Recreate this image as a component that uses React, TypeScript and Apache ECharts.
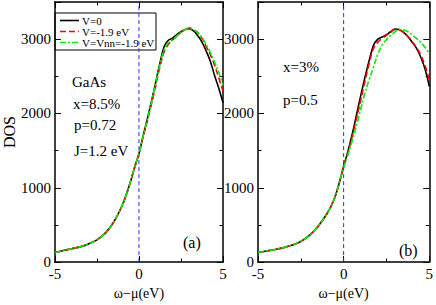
import React, { useEffect, useRef } from "react";
import * as echarts from "echarts";

// energy grid (eV)
const omega = [-5, -4.5, -4, -3.5, -3, -2.5, -2, -1.5, -1, -0.75, -0.5, -0.25,
  0, 0.25, 0.5, 0.75, 1, 1.25, 1.5, 1.75, 2, 2.25, 2.5, 2.75, 3, 3.25, 3.5, 3.75, 4, 4.25, 4.5, 4.75, 5];

// panel (a): common low-energy tail (-5 .. -0.25)
const tailA = [130, 155, 180, 205, 245, 300, 390, 540, 760, 910, 1085, 1280];
const blackA = [1460, 1700, 1930, 2170, 2420, 2680, 2900, 2985, 3015, 3060, 3100, 3130, 3140, 3110, 3045, 2960, 2840, 2700, 2510, 2340, 2143];
const redA = [1460, 1690, 1900, 2130, 2380, 2630, 2830, 2930, 2990, 3040, 3090, 3130, 3150, 3130, 3090, 3010, 2900, 2790, 2650, 2480, 2300];
const greenA = [1460, 1700, 1920, 2160, 2410, 2660, 2860, 2950, 2990, 3040, 3090, 3130, 3145, 3125, 3085, 3020, 2930, 2820, 2690, 2550, 2380];

// panel (b)
const tailB = [130, 150, 170, 195, 230, 278, 360, 480, 640, 745, 880, 1070];
const blackB = [1290, 1490, 1720, 1980, 2240, 2490, 2720, 2920, 3000, 3030, 3060, 3100, 3135, 3130, 3090, 3035, 2960, 2880, 2760, 2600, 2364];
const redB = [1280, 1470, 1690, 1930, 2180, 2440, 2680, 2880, 2960, 3010, 3050, 3095, 3130, 3125, 3090, 3040, 2970, 2890, 2790, 2650, 2450];
const greenB = [1270, 1440, 1630, 1840, 2060, 2280, 2460, 2630, 2800, 2920, 2995, 3050, 3100, 3130, 3125, 3100, 3060, 3010, 2960, 2890, 2810];

const seriesNames = ["V=0", "V=-1.9 eV", "V=Vnn=-1.9 eV"];
const xTicks = { min: -5, max: 5, interval: 5 };
const yTicks = { min: 0, max: 3500, interval: 1000 };

const FONT = "Liberation Serif";

function pairs(tail: number[], upper: number[]) {
  const vals = tail.concat(upper);
  return omega.map((w, i) => [w, vals[i]]);
}

export default function App() {
  const ref = useRef<HTMLDivElement>(null);
  useEffect(() => {
    if (!ref.current) return;
    const chart = echarts.init(ref.current, null, { renderer: "svg" });

    const grids = [
      { left: 51, top: 2, width: 172, height: 268 },
      { left: 258, top: 2, width: 174, height: 268 },
    ];

    const axisLine = { show: true, onZero: false, lineStyle: { color: "#000", width: 1.5 } };
    const tick = { show: true, inside: true, length: 6, lineStyle: { color: "#000", width: 1 } };
    const minor = { show: true, splitNumber: 2, length: 3.5, lineStyle: { color: "#000", width: 1 } };
    const label = {
      show: true, fontFamily: FONT, fontSize: 15, color: "#000",
      formatter: (v: number) => String(v),
    };

    const xAxis: any[] = [];
    const yAxis: any[] = [];
    [0, 1].forEach((g) => {
      xAxis.push({
        type: "value", gridIndex: g, position: "bottom", ...xTicks,
        axisLine, axisTick: tick, minorTick: minor, splitLine: { show: false },
        axisLabel: { ...label, margin: 4 },
        name: "ω−μ(eV)", nameLocation: "middle", nameGap: 18,
        nameTextStyle: { fontFamily: FONT, fontSize: 14, color: "#000" },
      });
      xAxis.push({
        type: "value", gridIndex: g, position: "top", ...xTicks,
        axisLine, axisTick: tick, minorTick: minor, splitLine: { show: false },
        axisLabel: { show: false },
      });
      yAxis.push({
        type: "value", gridIndex: g, position: "left", ...yTicks,
        axisLine, axisTick: tick, minorTick: minor, splitLine: { show: false },
        axisLabel: { ...label, margin: 4, showMaxLabel: false },
        ...(g === 0
          ? {
              name: "DOS", nameLocation: "middle", nameGap: 32,
              nameTextStyle: { fontFamily: FONT, fontSize: 16, color: "#000" },
            }
          : {}),
      });
      yAxis.push({
        type: "value", gridIndex: g, position: "right", ...yTicks,
        axisLine, axisTick: tick, minorTick: minor, splitLine: { show: false },
        axisLabel: { show: false },
      });
    });

    const styles = [
      { color: "#000000", type: "solid" as any },
      { color: "#ff0000", type: [6, 3] },
      { color: "#00ee00", type: [6, 2, 2, 2] },
    ];
    const dataSets = [
      [pairs(tailA, blackA), pairs(tailA, redA), pairs(tailA, greenA)],
      [pairs(tailB, blackB), pairs(tailB, redB), pairs(tailB, greenB)],
    ];

    const series: any[] = [];
    [0, 1].forEach((g) => {
      series.push({
        type: "line", xAxisIndex: g * 2, yAxisIndex: g * 2, symbol: "none",
        data: [[0, yTicks.min], [0, yTicks.max]],
        lineStyle: { color: "#2233ee", width: 1, type: [4, 3] },
        silent: true,
      });
      dataSets[g].forEach((d, i) => {
        series.push({
          name: seriesNames[i], type: "line", xAxisIndex: g * 2, yAxisIndex: g * 2,
          symbol: "none", smooth: 0.4, data: d,
          lineStyle: { color: styles[i].color, width: 1.6, type: styles[i].type },
          itemStyle: { color: styles[i].color },
        });
      });
    });

    const txt = (text: string, x: number, y: number, size = 15) => ({
      type: "text", x, y,
      style: { text, fontFamily: FONT, fontSize: size, fill: "#000", textVerticalAlign: "middle" },
    });

    // legend drawn as graphic
    const legendItems: any[] = [
      {
        type: "rect", shape: { x: 55, y: 13, width: 101, height: 37 },
        style: { fill: "#fff", stroke: "#000", lineWidth: 1 },
      },
    ];
    seriesNames.forEach((n, i) => {
      const y = 20.5 + i * 11;
      legendItems.push({
        type: "line", shape: { x1: 60, y1: y, x2: 79, y2: y },
        style: {
          stroke: styles[i].color, lineWidth: 1.6,
          lineDash: Array.isArray(styles[i].type) ? styles[i].type : null,
        },
      });
      legendItems.push({
        type: "text", x: 82, y,
        style: { text: n, fontFamily: FONT, fontSize: 11, fill: "#000", textVerticalAlign: "middle" },
      });
    });

    chart.setOption({
      animation: false,
      backgroundColor: "#fff",
      textStyle: { fontFamily: FONT },
      grid: grids,
      xAxis, yAxis, series,
      graphic: [
        ...legendItems,
        txt("GaAs", 72, 82),
        txt("x=8.5%", 73, 104),
        txt("p=0.72", 74, 125),
        txt("J=1.2 eV", 74, 151),
        txt("(a)", 183, 242, 16),
        txt("x=3%", 283, 67),
        txt("p=0.5", 283, 100),
        txt("(b)", 399, 250, 16),
      ],
    });
    return () => chart.dispose();
  }, []);
  return (
    <div
      ref={ref}
      style={{ position: "fixed", left: 0, top: 0, width: 436, height: 305, background: "#fff" }}
    />
  );
}
